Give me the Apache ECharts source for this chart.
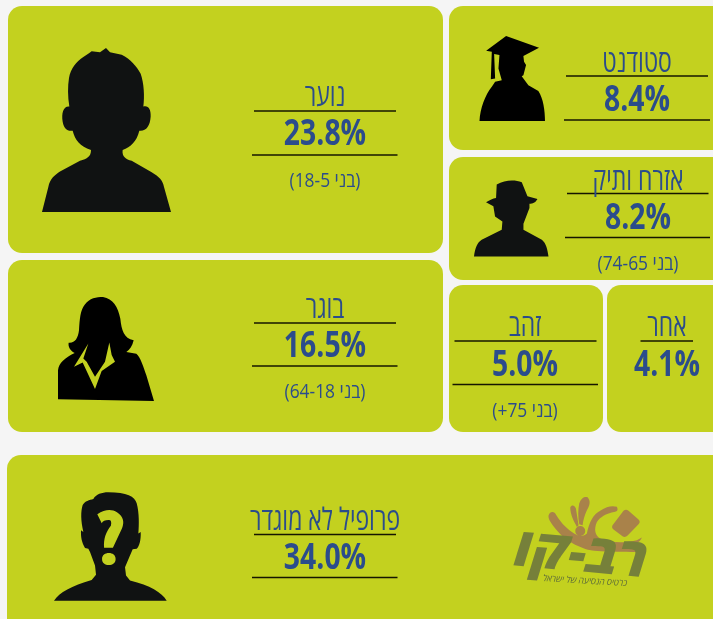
<!DOCTYPE html>
<html>
<head>
<meta charset="utf-8">
<style>
  html, body { margin: 0; padding: 0; background: #f5f5f5; }
  #chart { width: 713px; height: 619px; }
</style>
<script src="https://cdn.jsdelivr.net/npm/echarts@6/dist/echarts.min.js"></script>
</head>
<body>
<div id="chart"></div>
<script>
// profile names, share of cards (%), age range under the number
const segments = ["נוער", "בוגר", "סטודנט", "אזרח ותיק", "זהב", "אחר", "פרופיל לא מוגדר"];
const shares = [23.8, 16.5, 8.4, 8.2, 5.0, 4.1, 34.0];
const ageNotes = ["(בני 18-5)", "(בני 64-18)", "", "(בני 74-65)", "(בני 75+)", "", ""];

const LIME = "#c3d11f";
const BLUE = "#2b4c8c";
const INK = "#101212";
const FONT = '"Open Sans", "DejaVu Sans", sans-serif';

// where each tile sits on the page
const tiles = [
  { box: [8, 6, 435, 247], r: 14, cx: 325, labelY: 97, valueY: 135.5, noteY: 181, lines: [[254, 396, 111], [252, 397.5, 155]] },
  { box: [8, 260, 435, 172], r: 14, cx: 325, labelY: 309, valueY: 347.5, noteY: 392, lines: [[254, 396, 323], [252, 397.5, 366]] },
  { box: [449, 6, 290, 144], r: 14, cx: 637, labelY: 63, valueY: 101.5, noteY: 0, lines: [[566, 708, 76], [564, 710, 120]] },
  { box: [449, 157, 290, 123], r: 14, cx: 638, labelY: 181, valueY: 219.5, noteY: 264, lines: [[567, 708.5, 193.5], [565, 710, 237.5]] },
  { box: [449, 285, 154, 147], r: 14, cx: 525, labelY: 327, valueY: 366.5, noteY: 411.5, lines: [[454.5, 596.5, 341], [452.5, 598, 384.5]] },
  { box: [607, 285, 130, 147], r: 14, cx: 667, labelY: 327, valueY: 366.5, noteY: 0, lines: [[640.5, 693, 341]] },
  { box: [7, 455, 740, 190], r: 14, cx: 325, labelY: 521, valueY: 559.5, noteY: 0, lines: [[254, 396, 534.5], [252, 397.5, 577.5]] }
];

// silhouettes, one per tile, stretched into their rect
const icons = [
  [{ fill: INK, rect: [42, 48, 129, 164], d: "M126 635 L145 560 C150 535 165 524 180 514 L240 482 C262 476 273 470 273 450 C240 438 225 420 218 392 C200 394 192 385 188 365 C184 340 190 318 208 320 C203 290 203 260 207 235 C212 205 230 185 250 172 L268 160 L275 155 L300 158 L318 145 L330 158 L365 165 C392 178 410 200 422 222 C432 250 434 290 430 320 C445 316 453 328 452 350 C450 380 438 394 418 392 C410 425 392 440 368 450 C365 470 378 478 395 482 L455 516 C478 530 488 540 492 560 L513 635 Z" }],
  [{ fill: "#000", rect: [58, 297, 96, 104], d: "M175 432 L175 345 C178 322 195 308 225 293 C210 285 205 272 207 262 C225 264 235 250 238 225 C240 190 242 165 255 148 C270 128 290 125 310 125 C340 130 355 155 362 190 C366 225 372 248 402 255 C398 272 390 284 380 290 L410 295 C422 305 432 335 440 360 L463 437 Z" },
   { fill: LIME, rect: [74, 342.5, 41, 46.5], d: "M265 265 L222 335 L248 322 L285 402 L305 348 L345 320 L335 300 L328 262 L315 320 L285 365 L260 320 L250 310 Z" }],
  [{ fill: "#000", rect: [479.5, 36, 65.5, 85], d: "M198 108 L297 143 L250 168 L252 185 L258 195 L250 225 L245 228 L265 255 L295 272 C310 295 315 330 315 362 L118 362 C120 325 135 285 155 260 L165 245 L185 240 L175 205 L178 165 L162 162 L165 235 L152 237 L155 155 L138 152 Z" }],
  [{ fill: INK, rect: [474, 180.5, 74.5, 76], d: "M170 555 C195 540 225 540 245 548 L262 590 L292 598 C285 610 278 612 268 612 L268 625 L250 672 L250 690 L305 720 C318 730 322 750 325 770 L102 770 C105 745 112 728 125 720 L185 690 L187 665 L165 650 L160 620 L138 608 C150 600 158 597 168 595 Z" }],
  [],
  [],
  [{ fill: INK, rect: [54, 492.3, 112.7, 108.4], d: "M205 22 C260 22 285 35 290 55 C298 85 297 120 295 145 L302 140 C303 165 298 182 290 190 L278 192 L268 215 L255 245 L258 270 L270 285 C330 300 365 320 380 345 L42 345 C58 320 95 300 155 283 L168 268 L165 240 L150 200 L145 190 L135 188 C125 170 122 155 123 135 L130 140 C122 105 122 80 128 60 C135 48 148 45 160 42 C168 28 185 22 205 22 Z" },
   { fill: LIME, rect: [97.3, 510, 26, 55], d: "M172 88 C195 72 215 72 230 82 C250 95 252 112 245 130 L218 188 L192 188 C190 160 198 140 212 122 C215 110 212 104 205 105 C195 105 188 108 185 115 Z M186 222 C186 210 195 204 206 204 C217 204 226 210 226 222 C226 234 217 240 206 240 C195 240 186 234 186 222 Z" },
   { fill: "#a9824a", rect: [548.5, 497, 94, 55], d: "M130 75 C135 62 145 65 150 70 C165 95 180 112 200 125 C222 142 235 138 245 130 C252 95 265 72 285 62 C305 48 322 46 335 50 C340 60 335 64 330 65 C300 70 285 82 275 95 C265 118 270 135 285 145 C320 160 365 158 395 150 L410 142 C405 155 395 160 385 162 L398 165 L412 170 C405 176 400 180 395 185 C375 184 350 184 330 184 C290 184 260 182 240 176 C195 160 170 140 150 115 C135 95 128 85 130 75 Z M195 52 C200 42 208 46 212 55 L220 105 L215 110 C205 92 195 72 195 52 Z M222 40 C228 22 240 18 248 22 C258 35 252 48 245 60 C238 75 234 90 232 105 L222 102 C218 80 218 60 222 40 Z M210 122 A15 15 0 1 0 240 122 A15 15 0 1 0 210 122 Z M322 105 L355 62 C360 58 365 58 370 62 L400 88 C405 93 405 98 400 102 L368 135 C362 141 357 141 352 138 L325 118 C320 114 320 109 322 105 Z" }]
];

const chart = echarts.init(document.getElementById("chart"));

function textEl(str, x, y, font, fill, scaleX, rotation) {
  return {
    type: "text",
    x: x,
    y: y,
    scaleX: scaleX,
    rotation: rotation || 0,
    style: { text: str, x: 0, y: 0, font: font, fill: fill, align: "center", verticalAlign: "middle" }
  };
}

function renderTile(params, api) {
  const i = api.value(0);
  const t = tiles[i];
  const kids = [{
    type: "rect",
    shape: { x: t.box[0], y: t.box[1], width: t.box[2], height: t.box[3], r: t.r },
    style: { fill: LIME }
  }];
  icons[i].forEach(function (ic) {
    kids.push({
      type: "path",
      shape: { pathData: ic.d, layout: "cover", x: ic.rect[0], y: ic.rect[1], width: ic.rect[2], height: ic.rect[3] },
      style: { fill: ic.fill }
    });
  });
  t.lines.forEach(function (l) {
    kids.push({
      type: "line",
      shape: { x1: l[0], y1: l[2], x2: l[1], y2: l[2] },
      style: { stroke: "#161600", lineWidth: 1.5 }
    });
  });
  kids.push(textEl(segments[i], t.cx, t.labelY, "400 31px " + FONT, BLUE, 0.74));
  kids.push(textEl(api.value(1).toFixed(1) + "%", t.cx, t.valueY, "700 35px " + FONT, BLUE, 0.81));
  if (ageNotes[i]) {
    kids.push(textEl("\u202B" + ageNotes[i] + "\u202C", t.cx, t.noteY, "400 20px " + FONT, BLUE, 0.87));
  }
  if (i === 6) {
    kids.push(textEl("רב-קו", 581, 556, "italic 800 54px " + FONT, "#76803a", 1, -0.09));
    kids.push(textEl("כרטיס הנסיעה של ישראל", 585, 581, "italic 400 9px " + FONT, "#5d6b3a", 0.95, -0.06));
  }
  return { type: "group", children: kids };
}

chart.setOption({
  backgroundColor: "#f5f5f5",
  animation: false,
  series: [{
    type: "custom",
    coordinateSystem: "none",
    renderItem: renderTile,
    data: shares.map(function (v, i) { return [i, v]; })
  }]
});
</script>
</body>
</html>
